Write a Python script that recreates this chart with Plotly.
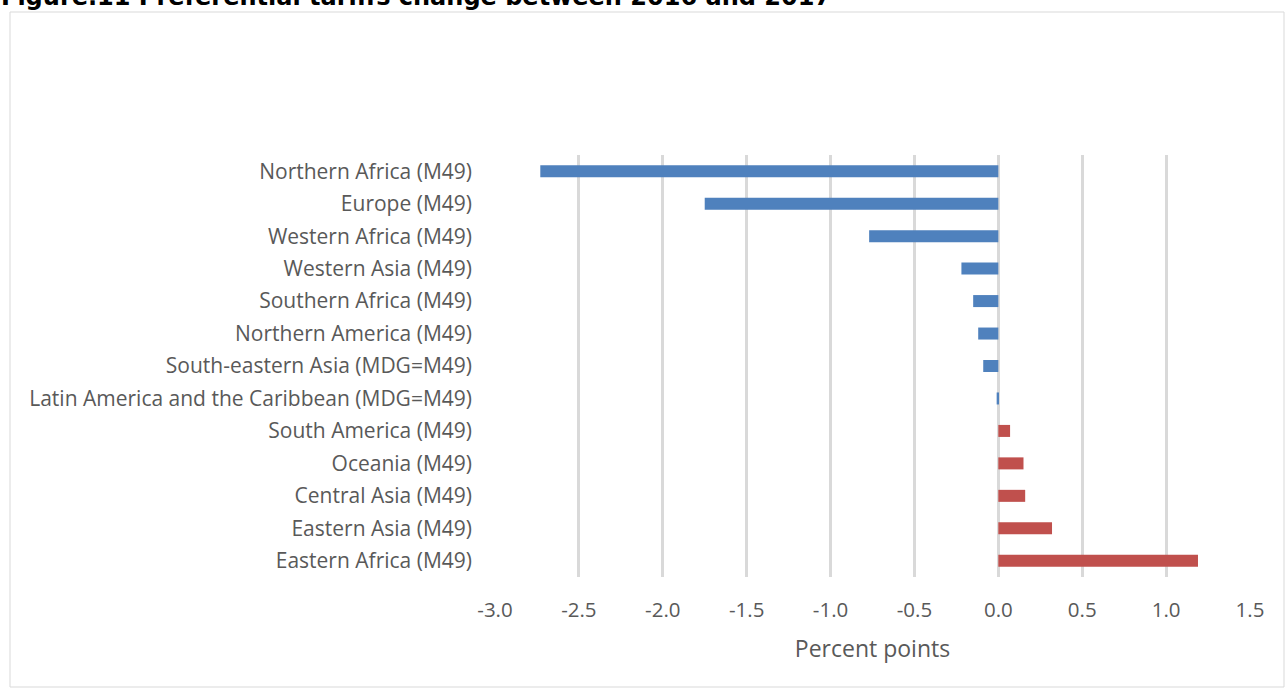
import plotly.graph_objects as go

categories = [
    "Northern Africa (M49)",
    "Europe (M49)",
    "Western Africa (M49)",
    "Western Asia (M49)",
    "Southern Africa (M49)",
    "Northern America (M49)",
    "South-eastern Asia (MDG=M49)",
    "Latin America and the Caribbean (MDG=M49)",
    "South America (M49)",
    "Oceania (M49)",
    "Central Asia (M49)",
    "Eastern Asia (M49)",
    "Eastern Africa (M49)",
]
values = [-2.73, -1.75, -0.77, -0.22, -0.15, -0.12, -0.09, -0.01,
          0.07, 0.15, 0.16, 0.32, 1.19]
tick_vals = [-3.0, -2.5, -2.0, -1.5, -1.0, -0.5, 0.0, 0.5, 1.0, 1.5]

BLUE = "#4F81BD"
RED = "#C0504D"
colors = [BLUE if v < 0 else RED for v in values]

W, H = 1285, 688
L, R, T, B = 495, 35, 155, 111
pw = W - L - R
ph = H - T - B

fig = go.Figure(go.Bar(
    x=values, y=categories, orientation="h",
    marker=dict(color=colors, line=dict(width=0)),
    width=0.37,
))

FONT = "Open Sans"
fig.update_layout(
    width=W, height=H,
    margin=dict(l=L, r=R, t=T, b=B, pad=0),
    paper_bgcolor="white", plot_bgcolor="white",
    showlegend=False,
    font=dict(family=FONT, color="#595959", size=18),
    xaxis=dict(
        range=[-3.0, 1.5], tickvals=tick_vals,
        ticktext=[f"{v:.1f}" for v in tick_vals],
        showgrid=True, gridcolor="#D9D9D9", gridwidth=2.5,
        zeroline=False, showline=False, ticks="",
        ticklabelstandoff=18,
        title=dict(text="Percent points", font=dict(family=FONT, size=23, color="#595959"), standoff=19),
        tickfont=dict(family=FONT, size=20.5, color="#595959"),
    ),
    yaxis=dict(
        autorange="reversed", showgrid=False, zeroline=False,
        showline=False, ticks="", ticklabelstandoff=22,
        tickfont=dict(family=FONT, size=21, color="#595959"),
    ),
)

def px_x(x):
    return (x - L) / pw

def px_y(y):
    return (H - B - y) / ph

fig.add_shape(type="rect", xref="paper", yref="paper",
              x0=px_x(10), x1=px_x(1284), y0=px_y(687), y1=px_y(12),
              line=dict(color="#D9D9D9", width=1), fillcolor="rgba(0,0,0,0)",
              layer="below")

fig.add_annotation(
    text="<b>Figure.11 Preferential tariffs change between 2016 and 2017</b>",
    xref="paper", yref="paper", x=px_x(-1), y=px_y(-3),
    xanchor="left", yanchor="middle", showarrow=False,
    font=dict(family="DejaVu Sans", size=24, color="black"),
)

fig.write_html("out.html")
